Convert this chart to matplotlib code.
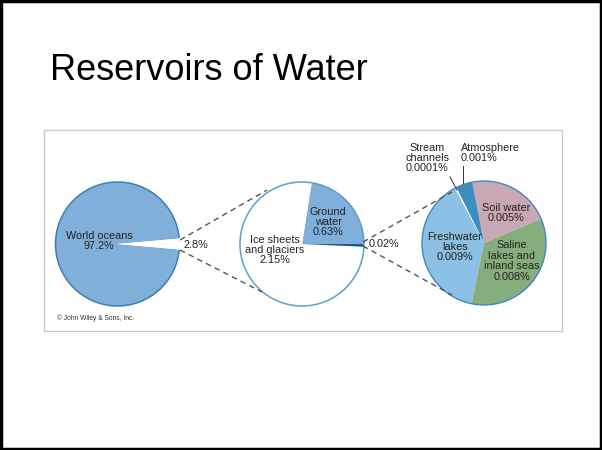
import matplotlib
matplotlib.use("Agg")
import matplotlib.pyplot as plt
from matplotlib.patches import Rectangle, Arc, Circle

plt.rcParams['font.family'] = ['Liberation Sans', 'DejaVu Sans']

# data
ocean_labels = ["World oceans\n97.2%", "2.8%"]
ocean_vals = [97.2, 2.8]

fresh_labels = ["Ground\nwater\n0.63%", "Ice sheets\nand glaciers\n2.15%", "0.02%"]
fresh_vals = [0.63, 2.15, 0.02]

small_labels = ["Soil water\n0.005%", "Atmosphere\n0.001%", "Stream\nchannels\n0.0001%",
                "Freshwater\nlakes\n0.009%", "Saline\nlakes and\ninland seas\n0.008%"]
small_vals = [0.005, 0.001, 0.0001, 0.009, 0.008]

W, H = 602, 450
fig = plt.figure(figsize=(6.02, 4.50), dpi=100)
ax = fig.add_axes([0, 0, 1, 1])


def Y(y):
    # image row -> data y (y up)
    return H - y


R = 62
c1 = (117.5, Y(244))
c2 = (302, Y(244))
c3 = (484, Y(243))

# pie 1: oceans
w1, _ = ax.pie(ocean_vals, colors=["#80afd9", "white"], startangle=2.8 * 3.6 / 2,
               center=c1, radius=R, wedgeprops=dict(linewidth=0), frame=True)
ax.add_patch(Arc(c1, 2 * R, 2 * R, theta1=5.5, theta2=354.5, color="#3b7fb4", lw=1.1))

# pie 2: fresh water split
w2, _ = ax.pie(fresh_vals, colors=["#80afd9", "white", "#1f5a8c"], startangle=0,
               center=c2, radius=R, wedgeprops=dict(linewidth=0), frame=True)
ax.add_patch(Circle(c2, R, fill=False, ec="#5aa0cc", lw=1.1))

# pie 3: small reservoirs
w3, _ = ax.pie(small_vals, colors=["#c8a8b4", "#3d8ec0", "white", "#8cc0e5", "#86ae7c"],
               startangle=23, center=c3, radius=R, wedgeprops=dict(linewidth=0), frame=True)
ax.add_patch(Circle(c3, R, fill=False, ec="#3f88c0", lw=1.0))

# dashed connectors
dash = dict(color="#555555", lw=1.0, ls=(0, (4, 3)))
ax.plot([180, 267], [Y(240), Y(190)], **dash)
ax.plot([180, 262], [Y(250), Y(292)], **dash)
ax.plot([363, 452], [Y(242), Y(192)], **dash)
ax.plot([363, 452], [Y(246), Y(295)], **dash)

# leaders for stream channels and atmosphere
ax.plot([450, 457], [Y(177), Y(190)], color="#333333", lw=0.7)
ax.plot([463, 463], [Y(166), Y(183)], color="#333333", lw=0.7)

fs = 7.8
tc = "#222222"
kw = dict(fontsize=fs, color=tc, ha="center", va="center", linespacing=1.05)
ax.text(99, Y(241), ocean_labels[0], **kw)
ax.text(196, Y(245), ocean_labels[1], **kw)
ax.text(328, Y(222), fresh_labels[0], **kw)
ax.text(275, Y(250), fresh_labels[1], **kw)
ax.text(384, Y(244), fresh_labels[2], **kw)
ax.text(506, Y(213), small_labels[0], **kw)
ax.text(461, Y(153), small_labels[1], fontsize=fs, color=tc, ha="left", va="center",
        linespacing=1.05)
ax.text(427, Y(158), small_labels[2], **kw)
ax.text(455, Y(247), small_labels[3], **kw)
ax.text(512, Y(261), small_labels[4], **kw)

ax.text(57, Y(318), "\u00a9 John Wiley & Sons, Inc.", fontsize=4.8, color="#333333",
        ha="left", va="center")

# panel frame
ax.add_patch(Rectangle((44, Y(331)), 518, 201, fill=False, ec="#c8c8c8", lw=1.0))

# title
ax.text(50, Y(70), "Reservoirs of Water", fontsize=26, color="black", ha="left", va="center")

# slide border
ax.add_patch(Rectangle((1, 1), W - 2, H - 2, fill=False, ec="black", lw=2.5))

ax.set_xlim(0, W)
ax.set_ylim(0, H)
ax.set_aspect("auto")
ax.axis("off")

fig.savefig("out.png", dpi=100)
